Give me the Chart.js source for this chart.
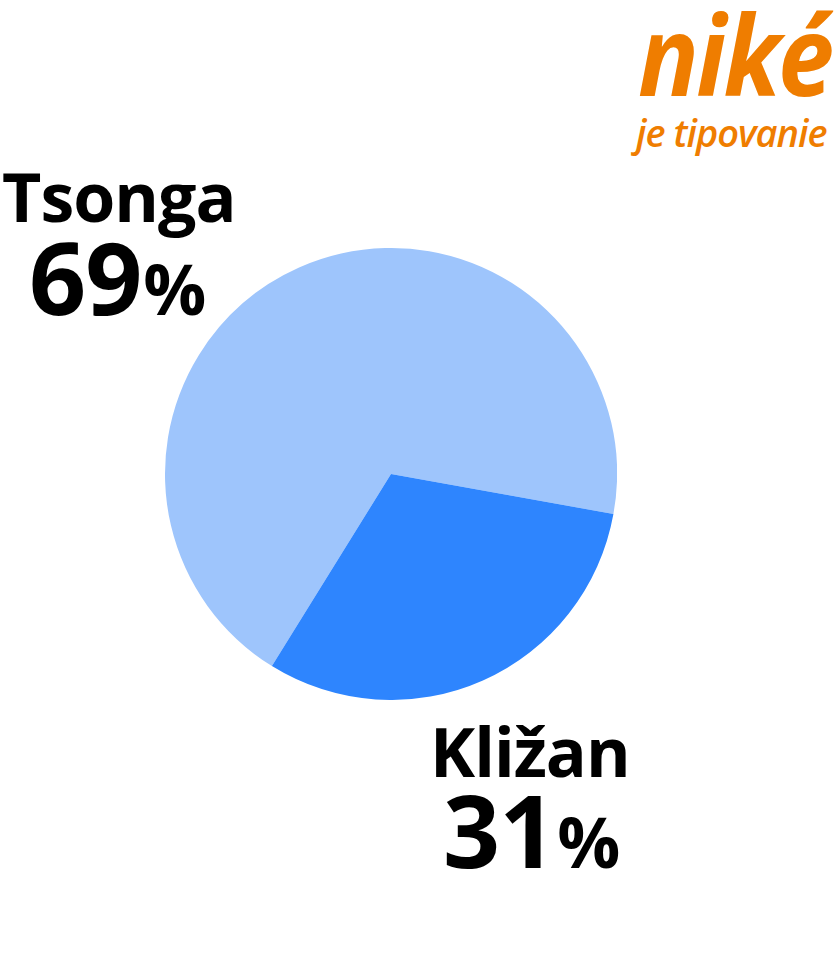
<!DOCTYPE html>
<html>
<head>
<meta charset="utf-8">
<script src="https://cdn.jsdelivr.net/npm/chart.js@4/dist/chart.umd.min.js"></script>
<style>
  html, body { margin: 0; padding: 0; background: #fff; }
  body { width: 835px; height: 978px; position: relative; overflow: hidden; font-family: "Open Sans", sans-serif; }
  #wrap { position: absolute; left: 165px; top: 248px; width: 452px; height: 452px; }
  .lbl { position: absolute; line-height: 1; font-weight: 700; color: #000; white-space: nowrap; }
  .name { font-size: 68px; letter-spacing: -1px; }
  .pct { font-size: 100px; letter-spacing: -1px; }
  .pct span { font-size: 70px; letter-spacing: 0; margin-left: 2px; }
  .logo { position: absolute; color: #ef7d00; white-space: nowrap; line-height: 1; font-style: italic; font-family: "Open Sans", sans-serif; transform-origin: left top; }
</style>
</head>
<body>
<div id="wrap"><canvas id="pie"></canvas></div>

<div class="lbl name" id="lblA" style="left:2px; top:162px;"></div>
<div class="lbl pct" id="pctA" style="left:29px; top:226px;"></div>
<div class="lbl name" id="lblB" style="left:430px; top:717px;"></div>
<div class="lbl pct" id="pctB" style="left:443px; top:779px;"></div>

<div class="logo" style="left:638px; top:-3px; font-weight:700; font-size:112px; letter-spacing:-3px; transform:scaleX(0.9);">niké</div>
<div class="logo" style="left:636px; top:113px; font-weight:600; font-size:38px; letter-spacing:-1px;">je tipovanie</div>

<script>
const players = ['Tsonga', 'Kližan']
const shares = [69, 31]
const colors = ['#9ec5fc', '#2e85fe']

document.getElementById('lblA').textContent = players[0]
document.getElementById('pctA').innerHTML = shares[0] + '<span>%</span>'
document.getElementById('lblB').textContent = players[1]
document.getElementById('pctB').innerHTML = shares[1] + '<span>%</span>'

new Chart(document.getElementById('pie'), {
  type: 'pie',
  data: {
    labels: players,
    datasets: [{
      data: shares,
      backgroundColor: colors,
      borderWidth: 0
    }]
  },
  options: {
    responsive: true,
    maintainAspectRatio: false,
    animation: false,
    rotation: 211.8,
    events: [],
    layout: { padding: 0 },
    plugins: {
      legend: { display: false },
      tooltip: { enabled: false }
    }
  }
})
</script>
</body>
</html>
